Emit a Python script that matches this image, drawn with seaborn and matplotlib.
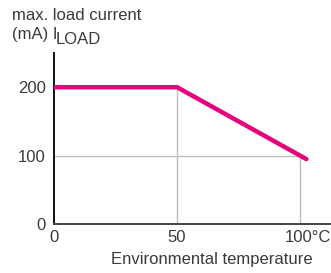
import numpy as np
import pandas as pd
import matplotlib
matplotlib.use('Agg')
import matplotlib.pyplot as plt
import matplotlib.transforms as mtransforms
import seaborn as sns

# Datos
temperature = [0, 50, 102.5]
load_current = [200, 200, 95]
x_ticks = [0, 50, 100]
x_tick_labels = ['0', '50', '100°C']
y_ticks = [0, 100, 200]

sns.set_style('white')
plt.rcParams['font.family'] = ['Liberation Sans', 'DejaVu Sans']

txt_col = '#3a3a3a'
df = pd.DataFrame({'temp': temperature, 'current': load_current})

fig = plt.figure(figsize=(3.31, 2.73), dpi=100)
ax = fig.add_axes([0.163, 0.179, 0.837, 0.627])

# Líneas de referencia hasta la curva
grid_col = '#bdbdbd'
for x in [50, 100]:
    top = np.interp(x, temperature, load_current)
    ax.vlines(x, 0, top, color=grid_col, lw=1, zorder=1)
ax.hlines(100, 0, 100, color=grid_col, lw=1, zorder=1)

sns.lineplot(data=df, x='temp', y='current', color='#e6007e', lw=3.2,
             ax=ax, zorder=3, solid_capstyle='round')

ax.set_xlim(0, 112.5)
ax.set_ylim(0, 250)
ax.set_xticks(x_ticks)
ax.set_xticklabels(x_tick_labels)
ax.set_yticks(y_ticks)
ax.tick_params(axis='both', direction='out', length=4, width=1,
               labelsize=12, colors=txt_col)
ax.tick_params(axis='x', pad=0)
ax.tick_params(axis='y', pad=2)

# "100" centrado en la marca, "°C" a continuación
lab = ax.get_xticklabels()[-1]
lab.set_transform(lab.get_transform() +
                  mtransforms.ScaledTranslation(8 / 100, 0, fig.dpi_scale_trans))

for side in ['top', 'right']:
    ax.spines[side].set_visible(False)
ax.spines['left'].set_color('#111111')
ax.spines['left'].set_linewidth(1.4)
ax.spines['bottom'].set_color('#444444')
ax.spines['bottom'].set_linewidth(1.4)

ax.set_xlabel('Environmental temperature', fontsize=12, color=txt_col)
ax.xaxis.set_label_coords(0.57, -0.165)
ax.set_ylabel('')

fig.text(12 / 331, 1 - 20 / 273, 'max. load current', fontsize=12,
         color=txt_col, va='baseline')
fig.text(12 / 331, 1 - 39 / 273, '(mA) I', fontsize=12,
         color=txt_col, va='baseline')
fig.text(56 / 331, 1 - 44 / 273, 'LOAD', fontsize=12,
         color=txt_col, va='baseline')

fig.savefig('out.png', dpi=100)
